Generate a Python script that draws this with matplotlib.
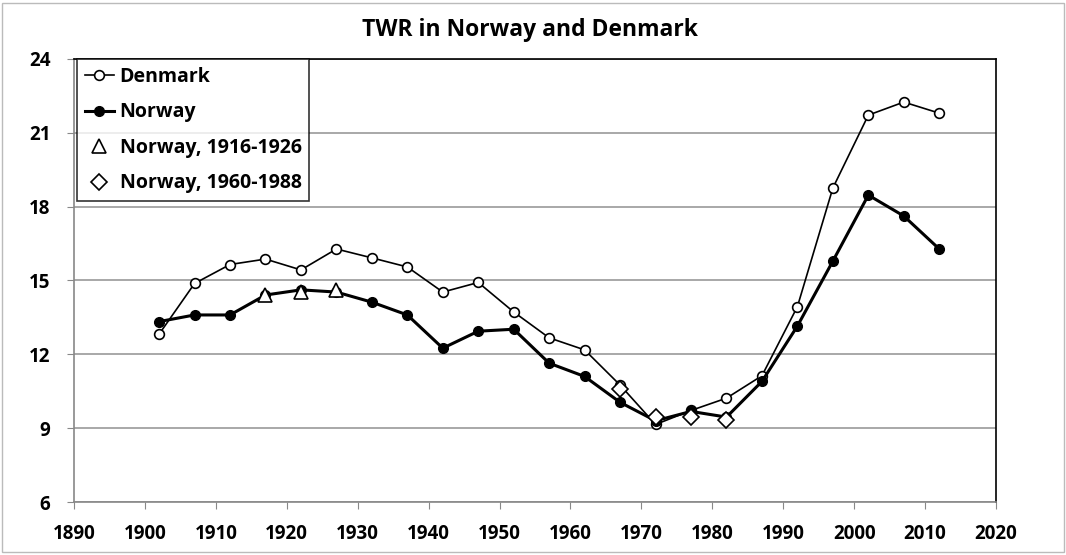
import matplotlib.pyplot as plt
import numpy as np

plt.rcParams['font.family'] = ['Open Sans', 'DejaVu Sans']
plt.rcParams['font.weight'] = 'bold'

## data
years = [1902, 1907, 1912, 1917, 1922, 1927, 1932, 1937, 1942, 1947, 1952, 1957,
         1962, 1967, 1972, 1977, 1982, 1987, 1992, 1997, 2002, 2007, 2012]
denmark = [12.82, 14.88, 15.65, 15.87, 15.43, 16.28, 15.92, 15.55, 14.53, 14.92, 13.72, 12.67,
           12.18, 10.75, 9.15, 9.72, 10.22, 11.13, 13.94, 18.76, 21.72, 22.25, 21.8]
norway = [13.33, 13.6, 13.6, 14.41, 14.62, 14.53, 14.12, 13.6, 12.25, 12.94, 13.02, 11.64,
          11.1, 10.05, 9.3, 9.68, 9.45, 10.9, 13.15, 15.79, 18.47, 17.62, 16.28]
tri_years = [1917, 1922, 1927]
tri_vals = [14.4, 14.52, 14.6]
dia_years = [1967, 1972, 1977, 1982]
dia_vals = [10.6, 9.45, 9.47, 9.33]

fig = plt.figure(figsize=(10.66, 5.55), dpi=100)
ax = fig.add_axes([74/1066, 1 - 502/555, (996-74)/1066, (502-59)/555])

ax.plot(years, denmark, color='black', lw=1.2, marker='o', ms=7,
        mfc='white', mec='black', mew=1.2, label='Denmark', zorder=3)
ax.plot(years, norway, color='black', lw=2.2, marker='o', ms=7,
        mfc='black', mec='black', label='Norway', zorder=4)
ax.plot(tri_years, tri_vals, ls='none', marker='^', ms=10, mfc='white',
        mec='black', mew=1.2, label='Norway, 1916-1926', zorder=5)
ax.plot(dia_years, dia_vals, ls='none', marker='D', ms=8, mfc='white',
        mec='black', mew=1.2, label='Norway, 1960-1988', zorder=5)

ax.set_xlim(1890, 2020)
ax.set_ylim(6, 24)
ax.set_xticks(np.arange(1890, 2021, 10))
ax.set_yticks(np.arange(6, 25, 3))
ax.tick_params(axis='both', labelsize=13.5, direction='out', length=5, color='#888888')
ax.tick_params(axis='x', pad=11)
ax.tick_params(axis='y', pad=12)
ax.grid(axis='y', color='#999999', lw=1.2)
ax.set_axisbelow(True)
for s in ['top', 'right']:
    ax.spines[s].set_color('black')
    ax.spines[s].set_linewidth(1.2)
for s in ['left', 'bottom']:
    ax.spines[s].set_color('#888888')
    ax.spines[s].set_linewidth(1.2)

fig.suptitle('TWR in Norway and Denmark', x=530/1066, y=1 - 30/555, va='center',
             fontsize=16.5, fontweight='bold')

leg = ax.legend(loc='upper left', bbox_to_anchor=(0.003, 1.0), fontsize=14,
                frameon=True, fancybox=False, edgecolor='black', handlelength=1.5,
                handletextpad=0.3, labelspacing=0.8, borderpad=0.4, borderaxespad=0)
leg.get_frame().set_linewidth(1.2)

## outer border
fig.patches.append(plt.Rectangle((0.002, 0.005), 0.996, 0.99, transform=fig.transFigure,
                                 fill=False, edgecolor='#bbbbbb', lw=1))

plt.savefig('out.png', dpi=100)
